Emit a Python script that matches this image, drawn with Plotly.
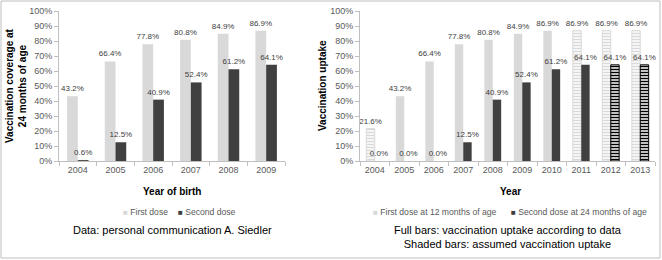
import plotly.graph_objects as go

# ---- data ----
years_left = ["2004", "2005", "2006", "2007", "2008", "2009"]
first_left = [43.2, 66.4, 77.8, 80.8, 84.9, 86.9]
second_left = [0.6, 12.5, 40.9, 52.4, 61.2, 64.1]

years_right = ["2004", "2005", "2006", "2007", "2008", "2009", "2010", "2011", "2012", "2013"]
first_right = [21.6, 43.2, 66.4, 77.8, 80.8, 84.9, 86.9, 86.9, 86.9, 86.9]
second_right = [0.0, 0.0, 0.0, 12.5, 40.9, 52.4, 61.2, 64.1, 64.1, 64.1]
# which bars are "assumed" (shaded)
first_right_assumed = [True, False, False, False, False, False, False, True, True, True]
second_right_assumed = [False, False, False, False, False, False, False, False, True, True]

legend_left = ["First dose", "Second dose"]
legend_right = ["First dose at 12 months of age", "Second dose at 24 months of age"]

# ---- styles ----
FONT = "Liberation Sans, Arial, sans-serif"
LIGHT = "#d9d9d9"
DARK = "#404040"
TXT = "#404040"
AX = "#bfbfbf"

W, H = 662, 260

def px_x(p):
    return p / W

def px_y(p):
    return (H - p) / H

fig = go.Figure()

lbl_font = dict(family=FONT, size=8, color=TXT)

fig.add_trace(go.Bar(
    x=years_left, y=first_left, name=legend_left[0], marker=dict(color=LIGHT, line=dict(width=0)),
    text=[f"{v:.1f}%" for v in first_left], textposition="outside", constraintext="none",
    textfont=lbl_font, cliponaxis=False, xaxis="x", yaxis="y", hoverinfo="skip"))
fig.add_trace(go.Bar(
    x=years_left, y=second_left, name=legend_left[1], marker=dict(color=DARK, line=dict(width=0)),
    text=[f"{v:.1f}%" for v in second_left], textposition="outside", constraintext="none",
    textfont=lbl_font, cliponaxis=False, xaxis="x", yaxis="y", hoverinfo="skip"))

fig.add_trace(go.Bar(
    x=years_right, y=first_right, name=legend_right[0],
    marker=dict(
        color=LIGHT,
        line=dict(color=[LIGHT if a else "rgba(0,0,0,0)" for a in first_right_assumed],
                  width=[1 if a else 0 for a in first_right_assumed]),
        pattern=dict(shape=["-" if a else "" for a in first_right_assumed],
                     fgcolor=LIGHT, bgcolor="white", size=3, solidity=0.5, fillmode="replace"),
    ),
    text=[f"{v:.1f}%" for v in first_right], textposition="outside", constraintext="none",
    textfont=lbl_font, cliponaxis=False, xaxis="x2", yaxis="y2", hoverinfo="skip"))
fig.add_trace(go.Bar(
    x=years_right, y=second_right, name=legend_right[1],
    marker=dict(
        color=[("black" if a else DARK) for a in second_right_assumed],
        line=dict(color=["black" if a else "rgba(0,0,0,0)" for a in second_right_assumed],
                  width=[1 if a else 0 for a in second_right_assumed]),
        pattern=dict(shape=["-" if a else "" for a in second_right_assumed],
                     fgcolor="black", bgcolor="white", size=3, solidity=0.5, fillmode="replace"),
    ),
    text=[f"{v:.1f}%" for v in second_right], textposition="outside", constraintext="none",
    textfont=lbl_font, cliponaxis=False, xaxis="x2", yaxis="y2", hoverinfo="skip"))

tick_font = dict(family=FONT, size=9, color="#595959")

xcommon = dict(showline=True, linecolor=AX, linewidth=1, ticks="outside", tickcolor=AX,
               ticklen=4, tickson="boundaries", tickfont=tick_font, showgrid=False,
               zeroline=False, fixedrange=True, tickangle=0, automargin=False)
ycommon = dict(range=[0, 100], tickmode="linear", tick0=0, dtick=10, ticksuffix="%",
               showticksuffix="all", showline=True, linecolor=AX,
               linewidth=1, ticks="outside", tickcolor=AX, ticklen=4, tickfont=tick_font,
               showgrid=False, zeroline=False, fixedrange=True, automargin=False)

y_dom = [px_y(161), px_y(11)]

fig.update_layout(
    width=W, height=H,
    margin=dict(l=0, r=0, t=0, b=0, autoexpand=False),
    paper_bgcolor="white", plot_bgcolor="white",
    font=dict(family=FONT, color=TXT),
    barmode="group",
    bargap=0.43, bargroupgap=0,
    xaxis=dict(domain=[px_x(59), px_x(285)], anchor="y", **xcommon),
    yaxis=dict(domain=y_dom, anchor="x", **ycommon),
    xaxis2=dict(domain=[px_x(360), px_x(655)], anchor="y2", **xcommon),
    yaxis2=dict(domain=y_dom, anchor="x2", **ycommon),
    showlegend=False,
)

ann_title = dict(family=FONT, size=10, color="black")
leg_font = dict(family=FONT, size=8.6, color="#595959")


def legend_item(x_px, color, label):
    return dict(
        text=f'<span style="color:{color};font-size:8px">■</span> {label}',
        x=px_x(x_px), y=px_y(212), xref="paper", yref="paper", showarrow=False,
        font=leg_font, xanchor="left", yanchor="middle")


annotations = [
    dict(text="<b>Vaccination coverage at<br>24 months of age</b>", textangle=-90,
         x=px_x(16), y=px_y(86), xref="paper", yref="paper", showarrow=False,
         font=ann_title, xanchor="center", yanchor="middle"),
    dict(text="<b>Year of birth</b>", x=px_x(172), y=px_y(191), xref="paper", yref="paper",
         showarrow=False, font=ann_title, xanchor="center", yanchor="middle"),
    dict(text="<b>Vaccination uptake</b>", textangle=-90,
         x=px_x(322), y=px_y(86), xref="paper", yref="paper", showarrow=False,
         font=ann_title, xanchor="center", yanchor="middle"),
    dict(text="<b>Year</b>", x=px_x(510), y=px_y(191), xref="paper", yref="paper",
         showarrow=False, font=ann_title, xanchor="center", yanchor="middle"),
    legend_item(121, LIGHT, legend_left[0]),
    legend_item(176, DARK, legend_left[1]),
    legend_item(371, LIGHT, legend_right[0]),
    legend_item(509, DARK, legend_right[1]),
    dict(text="Data: personal communication A. Siedler", x=px_x(172), y=px_y(230),
         xref="paper", yref="paper", showarrow=False,
         font=dict(family=FONT, size=11, color="black"), xanchor="center", yanchor="middle"),
    dict(text="Full bars: vaccination uptake according to data<br>Shaded bars: assumed vaccination uptake",
         x=px_x(508), y=px_y(237), xref="paper", yref="paper", showarrow=False,
         font=dict(family=FONT, size=11, color="black"), xanchor="center", yanchor="middle"),
]
fig.update_layout(annotations=annotations)

fig.add_shape(type="rect", xref="paper", yref="paper",
              x0=px_x(1), x1=px_x(660), y0=px_y(258), y1=px_y(1),
              line=dict(color="#bfbfbf", width=1), fillcolor="rgba(0,0,0,0)", layer="below")

fig.write_html(
    "out.html",
    config={"displayModeBar": False, "staticPlot": True},
    post_script="document.body.style.margin='0';document.body.style.padding='0';"
                "document.body.style.overflow='hidden';",
)
